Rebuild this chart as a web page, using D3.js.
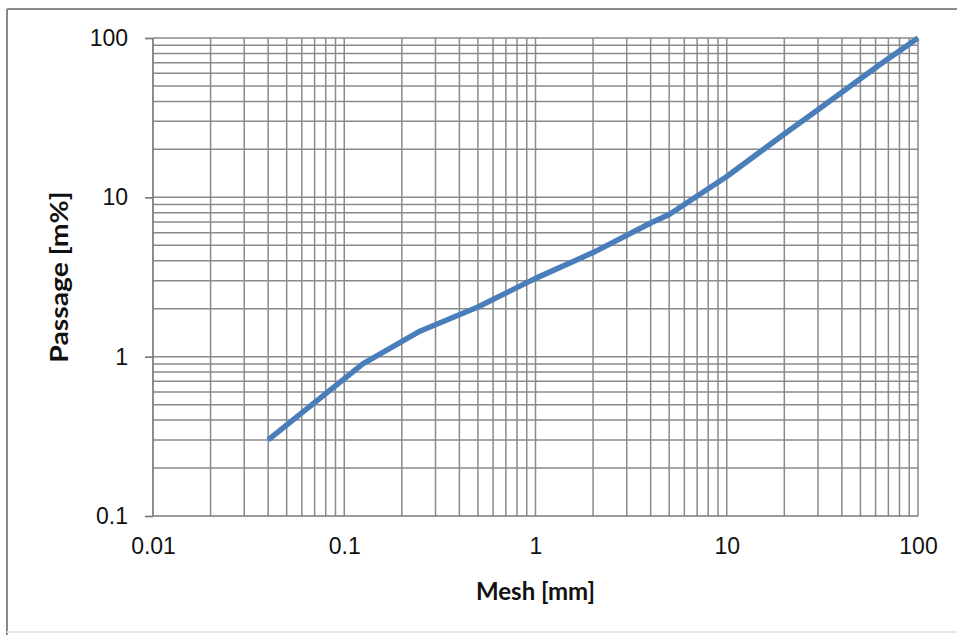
<!DOCTYPE html>
<html lang="en">
<head>
	<meta charset="utf-8">
	<title>Passage vs Mesh</title>
	<script src="https://cdn.jsdelivr.net/npm/d3@7/dist/d3.min.js"></script>
	<style>
		body { margin: 0; background: #fff; }
		svg { display: block; font-family: Lato, "Open Sans", sans-serif; }
		.grid line { stroke: #8a8a8a; stroke-width: 1.5; }
		.axis path, .axis line { stroke: #7a7a7a; stroke-width: 1.7; }
		.axis text { font-size: 23px; fill: #111; }
		.label { font-size: 24px; font-weight: bold; fill: #111; }
	</style>
</head>
<body>
<svg id="chart" width="957" height="635"></svg>
<script>
	// sieve curve
	var mesh    = [0.04, 0.125, 0.25, 0.5, 1, 2, 4, 5, 10, 20, 31.5, 63, 100];
	var passage = [0.3, 0.9, 1.45, 2.05, 3.1, 4.5, 6.9, 7.8, 13.5, 25, 37, 68, 100];

	var xTicks = [0.01, 0.1, 1, 10, 100];
	var yTicks = [0.1, 1, 10, 100];

	var svg = d3.select("#chart"),
		margin = {top: 38, left: 153, right: 39, bottom: 119},
		width = +svg.attr("width") - margin.left - margin.right,
		height = +svg.attr("height") - margin.top - margin.bottom;

	// outer frame (only left/top visible, bottom faint)
	svg.append("line").attr("x1", 7).attr("x2", 7).attr("y1", 9).attr("y2", 635)
		.attr("stroke", "#8a8a8a").attr("stroke-width", 2);
	svg.append("line").attr("x1", 7).attr("x2", 957).attr("y1", 9).attr("y2", 9)
		.attr("stroke", "#8a8a8a").attr("stroke-width", 2);
	svg.append("line").attr("x1", 7).attr("x2", 957).attr("y1", 632).attr("y2", 632)
		.attr("stroke", "#e6e6e6").attr("stroke-width", 2);

	var x = d3.scaleLog().domain([0.01, 100]).range([0, width]),
		y = d3.scaleLog().domain([0.1, 100]).range([height, 0]);

	var g = svg.append("g")
		.attr("transform", "translate(" + margin.left + "," + margin.top + ")");

	// minor + major grid: 1..9 in every decade
	var xGrid = x.ticks().filter(function(v) { return v > 0.01; });
	var yGrid = y.ticks().filter(function(v) { return v > 0.1; });

	g.append("g").attr("class", "grid")
		.selectAll("line").data(xGrid).enter().append("line")
		.attr("x1", function(d) { return x(d); })
		.attr("x2", function(d) { return x(d); })
		.attr("y1", 0).attr("y2", height);

	g.append("g").attr("class", "grid")
		.selectAll("line").data(yGrid).enter().append("line")
		.attr("x1", 0).attr("x2", width)
		.attr("y1", function(d) { return y(d); })
		.attr("y2", function(d) { return y(d); });

	g.append("g")
		.attr("class", "axis")
		.attr("transform", "translate(0," + height + ")")
		.call(d3.axisBottom(x).tickValues(xTicks).tickSize(0).tickPadding(22)
			.tickFormat(function(d) { return String(d); }));

	g.append("g")
		.attr("class", "axis")
		.call(d3.axisLeft(y).tickValues(yTicks).tickSize(8).tickPadding(17)
			.tickFormat(function(d) { return String(d); }));

	g.selectAll(".axis .domain").attr("d", function() {
		return d3.select(this.parentNode).attr("transform") ? "M0,0H" + width : "M0,0V" + height;
	});

	var data = mesh.map(function(m, i) { return [m, passage[i]]; });

	g.append("path")
		.datum(data)
		.attr("fill", "none")
		.attr("stroke", "#4a7ebb")
		.attr("stroke-width", 5.5)
		.attr("stroke-linejoin", "round")
		.attr("d", d3.line()
			.x(function(d) { return x(d[0]); })
			.y(function(d) { return y(d[1]); }));

	svg.append("text")
		.attr("class", "label")
		.attr("x", margin.left + width / 2)
		.attr("y", 600)
		.attr("text-anchor", "middle")
		.text("Mesh [mm]");

	svg.append("text")
		.attr("class", "label")
		.attr("transform", "translate(68," + (margin.top + height / 2) + ") rotate(-90) scale(1.18,1)")
		.attr("text-anchor", "middle")
		.text("Passage [m%]");
</script>
</body>
</html>
